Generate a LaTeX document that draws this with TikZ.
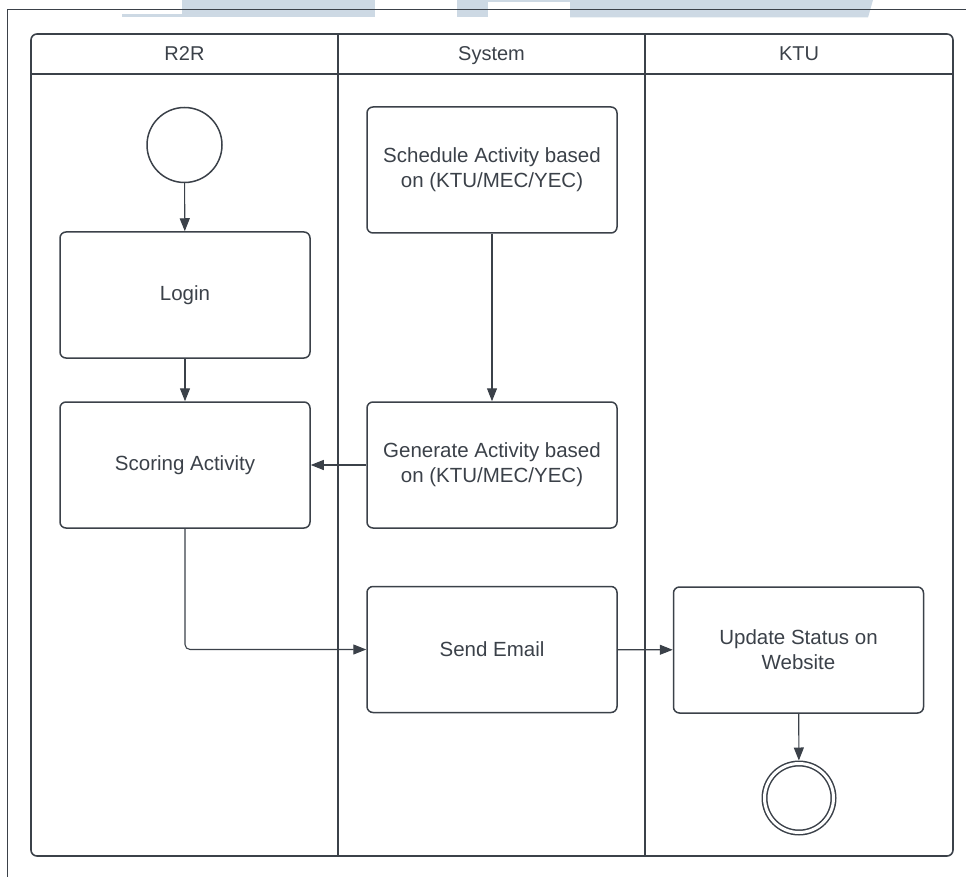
\documentclass[tikz,border=0pt]{standalone}
\usepackage{fontspec}
\setmainfont{Liberation Sans}
\usetikzlibrary{arrows.meta}
\definecolor{ink}{HTML}{3B4149}
\definecolor{wm}{HTML}{CDD9E4}
\tikzset{
  boxstyle/.style={draw=ink, line width=1.5pt, rounded corners=6pt, rectangle,
    minimum width=250pt, minimum height=126pt, text=ink, align=center,
    font=\fontsize{20.5}{25}\selectfont, inner sep=0pt},
  conn/.style={draw=ink, line width=1.1pt, -{Triangle[length=13pt,width=10pt]}},
  lanelabel/.style={text=ink, font=\fontsize{20}{24}\selectfont, inner sep=0pt, anchor=base},
  poolline/.style={draw=ink, line width=1.6pt},
}
\begin{document}
\begin{tikzpicture}[x=1pt, y=-1pt]
\useasboundingbox (0,0) rectangle (966,877);
% light watermark shapes at the top
\fill[wm] (182,0) rectangle (375,17.5);
\fill[wm] (122,14) rectangle (182,17.5);
\fill[wm] (457,0) rectangle (488,17.5);
\fill[wm] (488,0) rectangle (570,2.5);
\fill[wm] (570,0) -- (873,0) -- (868,17.5) -- (570,17.5) -- cycle;
% outer frame lines
\draw[ink, line width=1pt] (7.5,877) -- (7.5,10) -- (966,10);
% pool
\draw[poolline, rounded corners=6pt] (31,34) rectangle (953,856);
\draw[poolline] (31,74) -- (953,74);
\draw[poolline] (338,34) -- (338,856);
\draw[poolline] (645,34) -- (645,856);
\node[lanelabel] (laneA) at (184.5,61) {R2R};
\node[lanelabel] (laneB) at (491.5,61) {System};
\node[lanelabel] (laneC) at (799,61) {KTU};
% nodes
\node[draw=ink, line width=1.5pt, circle, minimum size=75pt, inner sep=0pt] (start) at (184.5,145) {};
\node[boxstyle] (login) at (185,295) {Login};
\node[boxstyle] (scoring) at (185,465) {Scoring Activity};
\node[boxstyle] (schedule) at (492,170) {Schedule Activity based\\on (KTU/MEC/YEC)};
\node[boxstyle] (generate) at (492,465) {Generate Activity based\\on (KTU/MEC/YEC)};
\node[boxstyle] (send) at (492,649.5) {Send Email};
\node[boxstyle] (update) at (798.5,650) {Update Status on\\Website};
\node[draw=ink, line width=1.5pt, double, double distance=3pt, circle, minimum size=69pt,
  inner sep=0pt, outer sep=3pt] (end) at (799,798) {};
% connectors
\draw[conn] (start) -- (login);
\draw[conn] (login) -- (scoring);
\draw[conn] (schedule) -- (generate);
\draw[conn] (generate) -- (scoring);
\draw[conn, rounded corners=5pt] (scoring.south) |- (send.west);
\draw[conn] (send) -- (update);
\draw[conn] (update) -- (end);
\end{tikzpicture}
\end{document}
